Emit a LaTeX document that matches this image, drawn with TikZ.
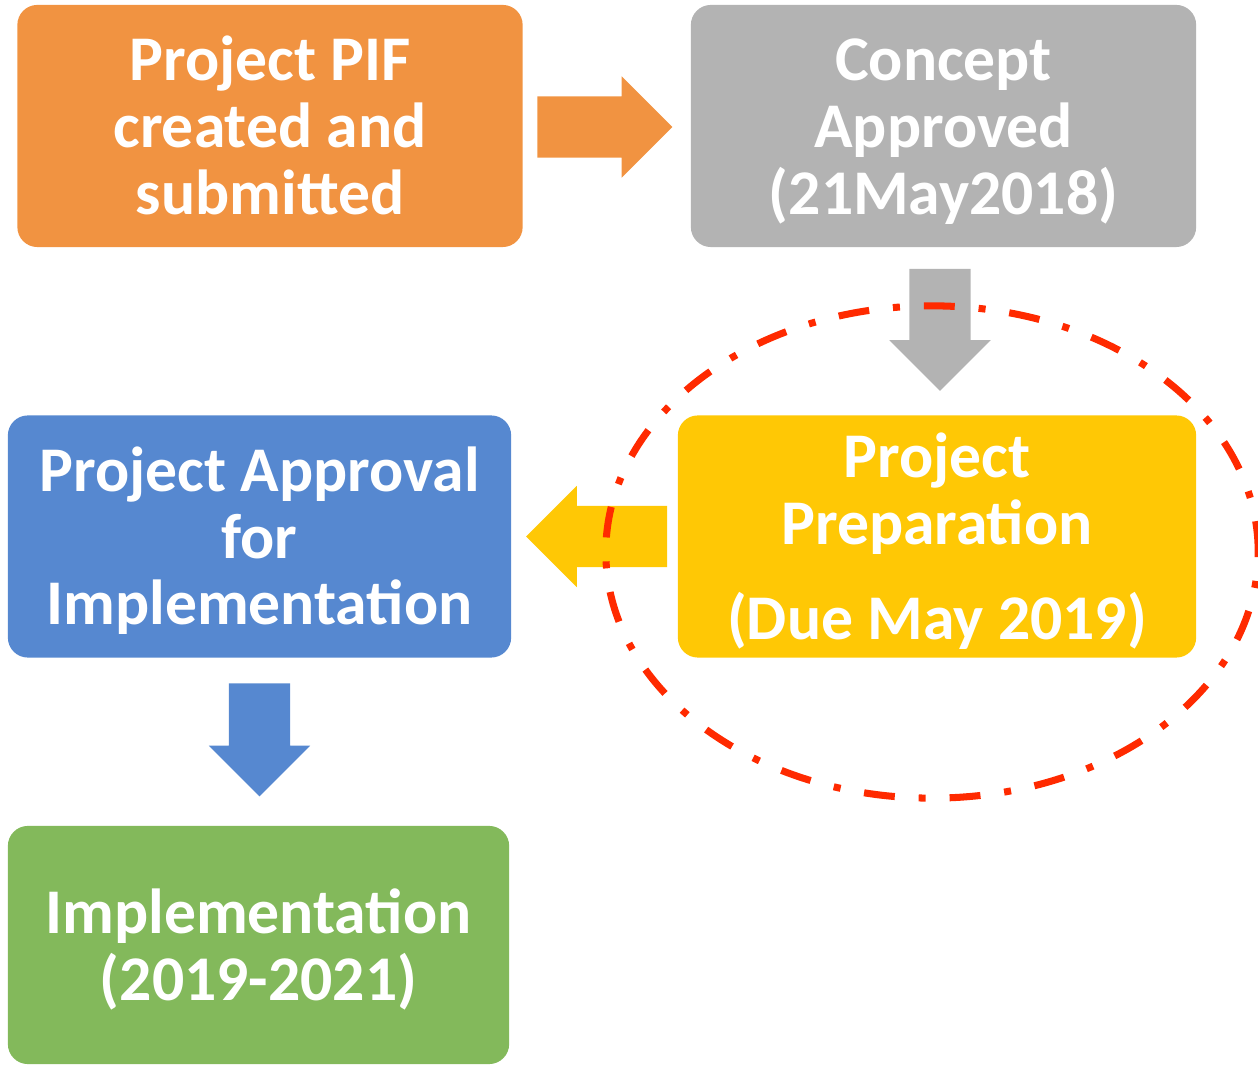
\documentclass[tikz,border=0pt]{standalone}
\usepackage{fontspec}
\setmainfont{Carlito}
\usepackage{tikz}
\usetikzlibrary{calc}
\usetikzlibrary{shapes.arrows}

\definecolor{pifcol}{HTML}{F19341}
\definecolor{conceptcol}{HTML}{B3B3B3}
\definecolor{prepcol}{HTML}{FFC805}
\definecolor{approvalcol}{HTML}{5688D0}
\definecolor{implcol}{HTML}{83B95B}
\definecolor{ringred}{HTML}{FF2A00}

% struts: first line ascent, last line descent
\newcommand{\boxtop}{\rule{0pt}{17.1pt}}
\newcommand{\boxbot}{\rule[-4.8pt]{0pt}{0pt}}

\tikzset{
  box/.style={rounded corners=0.2cm, fill=#1, text=white, align=center,
    minimum width=5.05cm, minimum height=2.42cm, inner sep=0pt,
    font=\fontsize{18.1}{19}\selectfont\bfseries},
  blockarrow/.style={single arrow, fill=#1, inner xsep=0pt, inner ysep=0.3cm,
    single arrow head extend=0.2cm, single arrow tip angle=90, outer sep=0pt, anchor=tail},
  ring/.style={draw=ringred, line width=2pt, dash pattern=on 8.8pt off 6.8pt on 2pt off 6.8pt}
}

\begin{document}
\begin{tikzpicture}[x=0.01cm,y=-0.01cm]
\useasboundingbox (0,0) rectangle (1258,1065);

% the five steps
\node[box=pifcol] (pif) at (270,126) {\boxtop Project PIF\\created and\\submitted\boxbot};
\node[box=conceptcol] (concept) at (943.5,126) {\boxtop Concept\\Approved\\(21May2018)\boxbot};
\node[box=prepcol, minimum width=5.18cm] (prep) at (937,536.5) {\boxtop Project\\Preparation\\[8pt](Due May 2019)\boxbot};
\node[box=approvalcol, minimum width=5.03cm] (approval) at (259.5,536.5) {\boxtop Project Approval\\for\\Implementation\boxbot};
\node[box=implcol, minimum width=5.01cm, minimum height=2.38cm] (impl) at (258.5,945) {\boxtop Implementation\\(2019-2021)\boxbot};

% block arrows between them
\node[blockarrow=pifcol, minimum height=1.35cm] (a1) at ($(pif.east)+(14,1)$) {};
\node[blockarrow=conceptcol, minimum height=1.22cm, rotate=-90] (a2) at ($(concept.south)+(-3.5,21)$) {};
\node[blockarrow=prepcol, minimum height=1.41cm, rotate=180] (a3) at ($(prep.west)+(-10,0)$) {};
\node[blockarrow=approvalcol, minimum height=1.13cm, rotate=-90] (a4) at ($(approval.south)+(0,25)$) {};

% dash-dot ring round the preparation step
\coordinate (ringc) at (932,552);
\draw[ring] (ringc) ellipse [x radius=3.26cm, y radius=2.46cm];

\end{tikzpicture}
\end{document}
